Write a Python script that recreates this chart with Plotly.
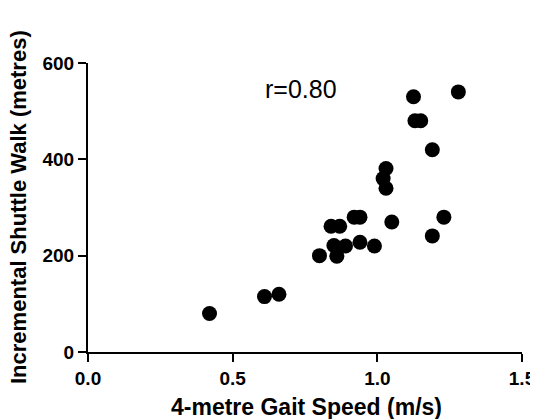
import plotly.graph_objects as go

gait_speed = [0.42, 0.61, 0.66, 0.80, 0.86, 0.85, 0.89, 0.94, 0.99, 0.84, 0.87,
              0.92, 0.94, 1.05, 1.03, 1.02, 1.03, 1.125, 1.13, 1.15, 1.19, 1.28,
              1.23, 1.19]
shuttle_walk = [80, 115, 120, 200, 199, 221, 220, 228, 220, 261, 261,
                280, 280, 270, 381, 360, 340, 530, 480, 480, 420, 540,
                280, 241]
x_ticks = [0.0, 0.5, 1.0, 1.5]
x_tick_labels = ["0.0", "0.5", "1.0", "1.5"]
y_ticks = [0, 200, 400, 600]
r_label = "r=0.80"
x_title = "4-metre Gait Speed (m/s)"
y_title = "Incremental Shuttle Walk (metres)"

font = "Liberation Sans, Arial, sans-serif"

# the page body has an 8px default margin, so the figure is drawn 8px smaller
fig = go.Figure(go.Scatter(
    x=gait_speed, y=shuttle_walk, mode="markers",
    marker=dict(size=15, color="black", line=dict(width=0)),
    hoverinfo="skip"))

fig.update_layout(
    width=530, height=411,
    margin=dict(l=80, r=16, t=55, b=67, autoexpand=False),
    plot_bgcolor="white", paper_bgcolor="white",
    showlegend=False,
    font=dict(family=font, color="black"),
)
fig.update_xaxes(
    range=[0, 1.5], tickvals=x_ticks, ticktext=x_tick_labels,
    showline=True, linecolor="black", linewidth=2,
    ticks="outside", ticklen=8, tickwidth=2, tickcolor="black",
    showgrid=False, zeroline=False, automargin=False,
    tickfont=dict(size=19, family=font, weight="bold"),
)
fig.update_yaxes(
    range=[0, 600], tickvals=y_ticks,
    showline=True, linecolor="black", linewidth=2,
    ticks="outside", ticklen=8, tickwidth=2, tickcolor="black",
    showgrid=False, zeroline=False, automargin=False,
    tickfont=dict(size=19, family=font, weight="bold"),
)
fig.add_annotation(
    x=0.735, y=545, xref="x", yref="y", text=r_label, showarrow=False,
    font=dict(size=25, family=font, color="black"))
fig.add_annotation(
    x=(306 - 88) / 434, y=(352 - 407) / 289, xref="paper", yref="paper",
    text=x_title, showarrow=False, xanchor="center", yanchor="middle",
    font=dict(size=23, family=font, weight="bold", color="black"))
fig.add_annotation(
    x=(18 - 88) / 434, y=(352 - 207) / 289, xref="paper", yref="paper",
    text=y_title, showarrow=False, textangle=-90, xanchor="center", yanchor="middle",
    font=dict(size=22, family=font, weight="bold", color="black"))

fig.write_html("out.html")
